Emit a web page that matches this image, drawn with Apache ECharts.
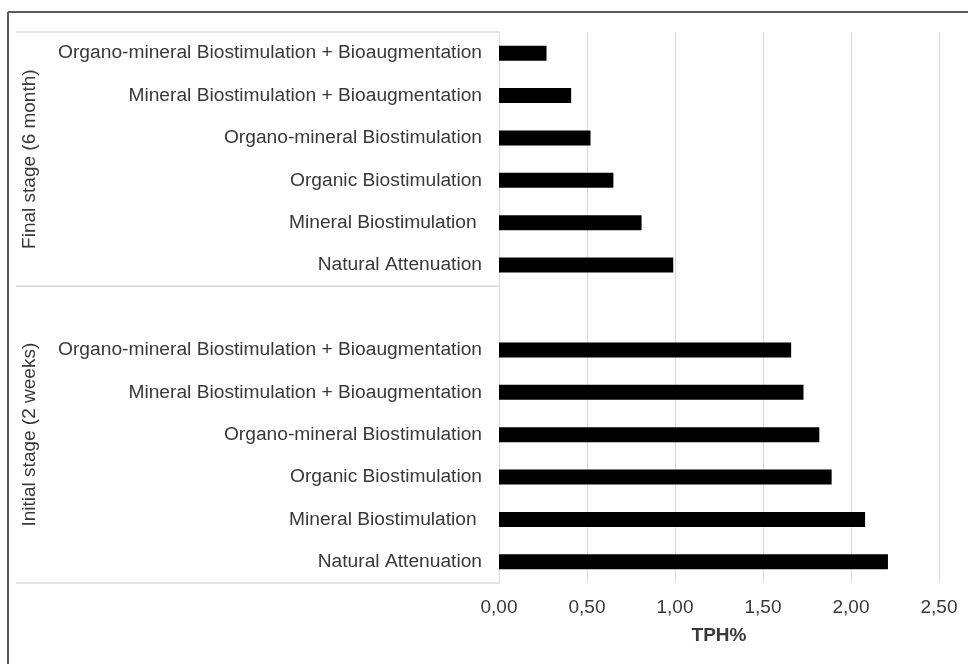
<!DOCTYPE html>
<html>
<head>
<meta charset="utf-8">
<script src="https://cdn.jsdelivr.net/npm/echarts@6/dist/echarts.min.js"></script>
<style>html,body{margin:0;padding:0;background:#fff}#c{width:968px;height:664px}</style>
</head>
<body>
<div id="c"></div>
<script>
// Treatments listed bottom -> top within each stage
const treatments = [
  "Natural Attenuation",
  "Mineral Biostimulation ",
  "Organic Biostimulation",
  "Organo-mineral Biostimulation",
  "Mineral Biostimulation + Bioaugmentation",
  "Organo-mineral Biostimulation + Bioaugmentation"
];
const stageInitial = "Initial stage (2 weeks)";
const stageFinal = "Final stage (6 month)";
const initialValues = [2.21, 2.08, 1.89, 1.82, 1.73, 1.66];
const finalValues = [0.99, 0.81, 0.65, 0.52, 0.41, 0.27];
const xTicks = [0, 0.5, 1.0, 1.5, 2.0, 2.5];
const xName = "TPH%";

const labels = treatments.concat([""]).concat(treatments);
const keys = labels.map((l, i) => "k" + i);
const values = initialValues.concat([null]).concat(finalValues);

const FONT = "Liberation Sans, Arial, sans-serif";
const TXT = "#383838";

const chart = echarts.init(document.getElementById('c'), null, {renderer: 'canvas'});
chart.setOption({
  animation: false,
  backgroundColor: '#fff',
  grid: {left: 499, right: 29, top: 32, bottom: 81, containLabel: false},
  xAxis: {
    type: 'value',
    min: xTicks[0], max: xTicks[xTicks.length - 1], interval: 0.5,
    axisLine: {show: false}, axisTick: {show: false},
    splitLine: {show: true, lineStyle: {color: '#d9d9d9', width: 1}},
    axisLabel: {color: TXT, fontFamily: FONT, fontSize: 19, margin: 15,
      formatter: v => v.toFixed(2).replace('.', ',')},
    name: xName, nameLocation: 'middle', nameGap: 43,
    nameTextStyle: {color: TXT, fontFamily: FONT, fontSize: 19, fontWeight: 'bold'}
  },
  yAxis: {
    type: 'category',
    data: keys,
    axisLine: {show: true, lineStyle: {color: '#d9d9d9', width: 1}},
    axisTick: {show: false},
    splitLine: {show: false},
    axisLabel: {color: TXT, fontFamily: FONT, fontSize: 19.2, margin: 17,
      formatter: (v, i) => labels[i]}
  },
  series: [{
    type: 'bar',
    data: values,
    barWidth: 15,
    itemStyle: {color: '#000'},
    silent: true
  }]
});

function pix(i) { return chart.convertToPixel({yAxisIndex: 0}, keys[i]); }
const band = Math.abs(pix(0) - pix(1));
const yBottom = pix(0) + band / 2;
const yMid = pix(6) - band / 2;
const yTop = pix(labels.length - 1) - band / 2;
const xAxisPix = chart.convertToPixel({xAxisIndex: 0}, 0);
const sepStyle = {stroke: '#d9d9d9', lineWidth: 1.5};
const leftX = 16;
chart.setOption({
  graphic: [
    {type: 'line', shape: {x1: 8, y1: 12, x2: 968, y2: 12}, style: {stroke: '#595959', lineWidth: 2}},
    {type: 'line', shape: {x1: 8, y1: 12, x2: 8, y2: 664}, style: {stroke: '#595959', lineWidth: 2}},
    {type: 'line', shape: {x1: leftX, y1: yTop, x2: xAxisPix, y2: yTop}, style: sepStyle},
    {type: 'line', shape: {x1: leftX, y1: yMid, x2: xAxisPix, y2: yMid}, style: sepStyle},
    {type: 'line', shape: {x1: leftX, y1: yBottom, x2: xAxisPix, y2: yBottom}, style: sepStyle},
    {type: 'text', x: 30, y: (yTop + yMid) / 2, rotation: Math.PI / 2,
      style: {text: stageFinal, align: 'center', verticalAlign: 'middle', fill: TXT, font: '19px ' + FONT}},
    {type: 'text', x: 30, y: (yMid + yBottom) / 2, rotation: Math.PI / 2,
      style: {text: stageInitial, align: 'center', verticalAlign: 'middle', fill: TXT, font: '19px ' + FONT}}
  ]
});
</script>
</body>
</html>
